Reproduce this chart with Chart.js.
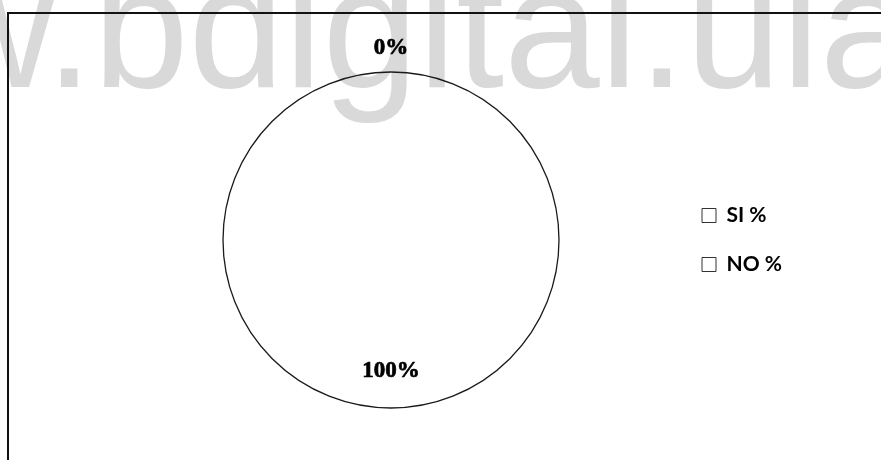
<!DOCTYPE html>
<html>
<head>
<meta charset="utf-8">
<script src="https://cdn.jsdelivr.net/npm/chart.js@4.4.1/dist/chart.umd.min.js"></script>
<style>
  html, body { margin: 0; padding: 0; background: #fff; }
  #wrap { width: 881px; height: 460px; position: relative; }
</style>
</head>
<body>
<div id="wrap"><canvas id="myChart"></canvas></div>
<script>
// data
const categories = ['SI %', 'NO %'];
const values = [0, 100];
const watermarkText = 'www.bdigital.ula';

const LEGEND_WIDTH = 207;

// scanned page background: watermark and the two visible frame edges
const pagePlugin = {
    id: 'page',
    beforeDraw(chart) {
        const ctx = chart.ctx;
        ctx.save();
        ctx.fillStyle = '#fff';
        ctx.fillRect(0, 0, chart.width, chart.height);
        ctx.fillStyle = '#d9d9d9';
        ctx.font = '172px "Liberation Sans", Arial, sans-serif';
        ctx.textBaseline = 'alphabetic';
        ctx.textAlign = 'left';
        ctx.fillText(watermarkText, -318, 87);
        ctx.strokeStyle = '#111';
        ctx.lineWidth = 2;
        ctx.beginPath();
        ctx.moveTo(7, 13);
        ctx.lineTo(chart.width, 13);
        ctx.moveTo(8, 13);
        ctx.lineTo(8, chart.height);
        ctx.stroke();
        ctx.restore();
    }
};

// make room on the right so the legend sits where it does in the picture
const legendWidthPlugin = {
    id: 'legendWidth',
    beforeLayout(chart) {
        const legend = chart.legend;
        if (legend && !legend._widthPatched) {
            const fit = legend.fit;
            legend.fit = function () {
                fit.call(this);
                this.width = LEGEND_WIDTH;
            };
            legend._widthPatched = true;
        }
    }
};

// outline of the pie without the radial seam of a 100% slice
const outlinePlugin = {
    id: 'outline',
    afterDatasetsDraw(chart) {
        const arc = chart.getDatasetMeta(0).data[0];
        if (!arc) return;
        const ctx = chart.ctx;
        ctx.save();
        ctx.strokeStyle = '#1a1a1a';
        ctx.lineWidth = 1.3;
        ctx.beginPath();
        ctx.arc(arc.x, arc.y, arc.outerRadius, 0, Math.PI * 2);
        ctx.stroke();
        ctx.restore();
    }
};

// percentage labels placed along each slice's mid angle
const sliceLabelPlugin = {
    id: 'sliceLabels',
    afterDatasetsDraw(chart, args, opts) {
        const ctx = chart.ctx;
        const meta = chart.getDatasetMeta(0);
        const data = chart.data.datasets[0].data;
        const total = data.reduce((a, b) => a + b, 0);
        ctx.save();
        ctx.fillStyle = '#000';
        ctx.strokeStyle = '#000';
        ctx.lineWidth = 0.7;
        ctx.font = opts.font;
        ctx.textAlign = 'center';
        ctx.textBaseline = 'middle';
        meta.data.forEach((arc, i) => {
            const mid = (arc.startAngle + arc.endAngle) / 2;
            const r = arc.outerRadius * opts.radius[i];
            const pct = Math.round(data[i] / total * 100) + '%';
            const px = arc.x + Math.cos(mid) * r;
            const py = arc.y + Math.sin(mid) * r;
            ctx.fillText(pct, px, py);
            ctx.strokeText(pct, px, py);
        });
        ctx.restore();
    }
};

const ctx = document.getElementById('myChart').getContext('2d');
const myChart = new Chart(ctx, {
    type: 'pie',
    data: {
        labels: categories,
        datasets: [{
            data: values,
            backgroundColor: 'rgba(255, 255, 255, 0)',
            borderWidth: 0
        }]
    },
    options: {
        responsive: true,
        maintainAspectRatio: false,
        animation: false,
        events: [],
        layout: {
            padding: { left: 108, right: 0, top: 72, bottom: 52 }
        },
        plugins: {
            tooltip: { enabled: false },
            legend: {
                position: 'right',
                labels: {
                    boxWidth: 14,
                    boxHeight: 14,
                    padding: 28,
                    color: '#000',
                    font: { family: 'Lato, "Noto Sans", sans-serif', size: 21, weight: 'bold' },
                    generateLabels: (chart) => {
                        const items = Chart.overrides.pie.plugins.legend.labels.generateLabels(chart);
                        return items.map(item => Object.assign(item, {
                            fillStyle: '#fff',
                            strokeStyle: '#333',
                            lineWidth: 1
                        }));
                    }
                }
            },
            sliceLabels: {
                font: 'bold 23px "Liberation Serif", "Times New Roman", serif',
                radius: [1.145, 0.78]
            }
        }
    },
    plugins: [pagePlugin, legendWidthPlugin, outlinePlugin, sliceLabelPlugin]
});
</script>
</body>
</html>
